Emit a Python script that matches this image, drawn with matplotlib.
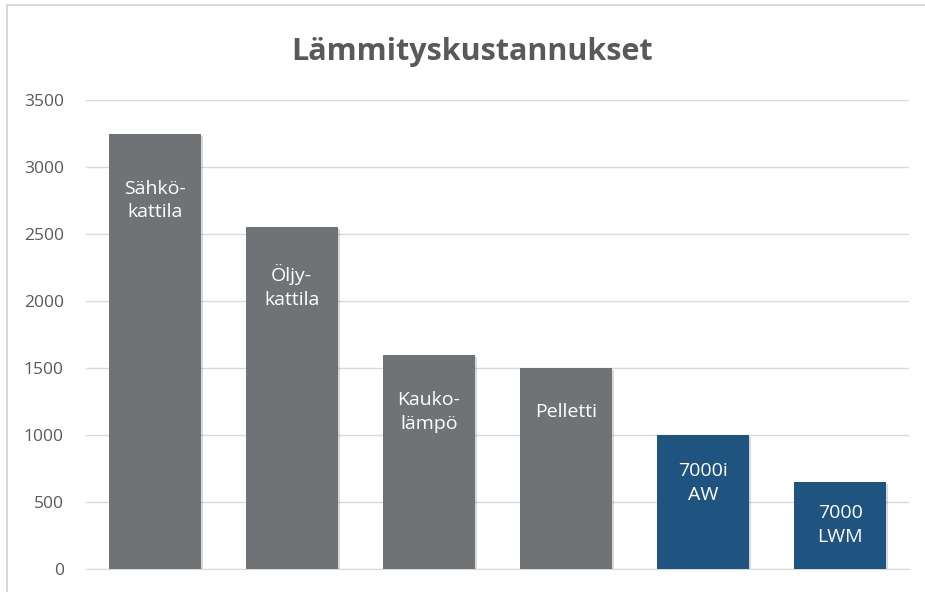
import matplotlib.pyplot as plt
import matplotlib.patheffects as pe
from matplotlib.patches import Rectangle

# Lämmityskustannukset (euroa / vuosi)
labels = ['Sähkö-\nkattila', 'Öljy-\nkattila', 'Kauko-\nlämpö', 'Pelletti', '7000i\nAW', '7000\nLWM']
costs = [3250, 2550, 1600, 1500, 1000, 650]
label_y = [2750, 2110, 1170, 1170, 640, 330]
colors = ['#707376', '#707376', '#707376', '#707376', '#1f5380', '#1f5380']

plt.rcParams['font.family'] = ['Open Sans', 'DejaVu Sans']

fig = plt.figure(figsize=(9.25, 5.92), dpi=100)
ax = fig.add_axes([86 / 925, 1 - 569 / 592, 823 / 925, 469 / 592])

x = range(len(costs))
bars = ax.bar(x, costs, width=0.67, color=colors, zorder=3,
              path_effects=[pe.SimplePatchShadow(offset=(1.5, -1.5), shadow_rgbFace='k', alpha=0.15), pe.Normal()])

for i, (lab, yy) in enumerate(zip(labels, label_y)):
    ax.text(i, yy, lab, ha='center', va='center', color='white', fontsize=14,
            linespacing=1.4, zorder=4)

ax.set_xlim(-0.5, len(costs) - 0.5)
ax.set_ylim(0, 3500)
ax.set_yticks(range(0, 3501, 500))
ax.set_xticks([])
ax.grid(axis='y', color='#d9d9d9', linewidth=1, zorder=0)
ax.tick_params(axis='y', length=0, labelsize=12.5, labelcolor='#595959', pad=16)
for s in ['top', 'right', 'left']:
    ax.spines[s].set_visible(False)
ax.spines['bottom'].set_color('#d9d9d9')

fig.text(472 / 925, 1 - 52 / 592, 'Lämmityskustannukset', ha='center', va='center',
         fontsize=22, fontweight='bold', color='#595959')

# chart frame (cut off at right/bottom)
fig.add_artist(Rectangle((7 / 925, -0.1), 1.1, 1 - 5 / 592 + 0.1, transform=fig.transFigure,
                         fill=False, edgecolor='#d9d9d9', linewidth=1.5))

fig.savefig('out.png', dpi=100)
